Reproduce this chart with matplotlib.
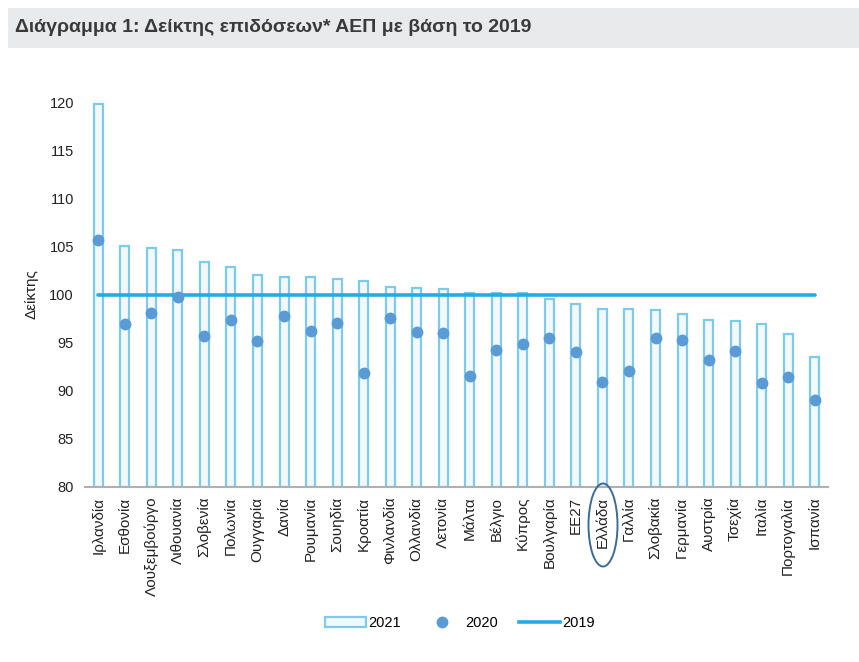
import matplotlib.pyplot as plt
from matplotlib.patches import Rectangle, Ellipse
from matplotlib.lines import Line2D
import numpy as np

plt.rcParams['font.family'] = ['Liberation Sans', 'DejaVu Sans']

countries = ['Ιρλανδία', 'Εσθονία', 'Λουξεμβούργο', 'Λιθουανία', 'Σλοβενία',
             'Πολωνία', 'Ουγγαρία', 'Δανία', 'Ρουμανία', 'Σουηδία', 'Κροατία',
             'Φινλανδία', 'Ολλανδία', 'Λετονία', 'Μάλτα', 'Βέλγιο', 'Κύπρος',
             'Βουλγαρία', 'ΕΕ27', 'Ελλάδα', 'Γαλλία', 'Σλοβακία', 'Γερμανία',
             'Αυστρία', 'Τσεχία', 'Ιταλία', 'Πορτογαλία', 'Ισπανία']
v2021 = [119.8, 105.0, 104.8, 104.6, 103.4, 102.9, 102.0, 101.8, 101.8, 101.6,
         101.4, 100.8, 100.7, 100.6, 100.2, 100.2, 100.2, 99.5, 99.0, 98.5,
         98.5, 98.4, 98.0, 97.3, 97.2, 96.9, 95.9, 93.5]
v2020 = [105.7, 96.9, 98.1, 99.7, 95.7, 97.3, 95.2, 97.8, 96.2, 97.0, 91.8,
         97.6, 96.1, 96.05, 91.55, 94.2, 94.9, 95.5, 94.0, 90.9, 92.05, 95.5,
         95.3, 93.15, 94.1, 90.8, 91.45, 89.05]
v2019 = 100
highlight = 'Ελλάδα'

bar_edge = '#7ccbec'
bar_face = '#f3f8fc'
dot_col = '#5b9bd5'
line_col = '#27aae1'

fig = plt.figure(figsize=(8.59, 6.62), dpi=100)

# title band
fig.patches.append(Rectangle((8 / 859, 1 - 48 / 662), 851 / 859, 40 / 662,
                             transform=fig.transFigure, facecolor='#e9eaec',
                             edgecolor='none', zorder=0))
fig.text(15 / 859, 1 - 28 / 662, 'Διάγραμμα 1: Δείκτης επιδόσεων* ΑΕΠ με βάση το 2019',
         fontsize=14, fontweight='bold', color='#3a3a3a', va='center', ha='left')

ax = fig.add_axes([85 / 859, 1 - 487 / 662, 743 / 859, 385 / 662])
x = np.arange(len(countries))

ax.bar(x, np.array(v2021) - 80, bottom=80, width=0.34, color=bar_face,
       edgecolor=bar_edge, linewidth=1.6, zorder=2)
ax.plot(x, v2020, 'o', color=dot_col, markersize=7.5, zorder=4)
ax.plot([x[0], x[-1]], [v2019, v2019], color=line_col, linewidth=2.6,
        solid_capstyle='round', zorder=3)

ax.set_xlim(-0.5, len(countries) - 0.5)
ax.set_ylim(80, 120)
ax.set_yticks(range(80, 121, 5))
ax.set_xticks(x)
ax.set_xticklabels(countries, rotation=90, fontsize=11, color='#222222')
ax.tick_params(axis='both', length=0, labelsize=10.5, colors='#222222')
ax.tick_params(axis='x', labelsize=11, pad=7)
ax.tick_params(axis='y', pad=8)
for s in ['left', 'right', 'top']:
    ax.spines[s].set_visible(False)
ax.spines['bottom'].set_color('#b0b0b0')
ax.spines['bottom'].set_linewidth(1.5)
ax.set_ylabel('Δείκτης', fontsize=11, color='#222222', labelpad=8)

# circle around Greece
fig.patches.append(Ellipse((603 / 859, 1 - 525 / 662), 29 / 859, 83 / 662,
                           transform=fig.transFigure, fill=False,
                           edgecolor='#3d6b99', linewidth=1.4))

handles = [Rectangle((0, 0), 1, 1, facecolor=bar_face, edgecolor=bar_edge, linewidth=1.6),
           Line2D([], [], marker='o', linestyle='none', color=dot_col, markersize=7.5),
           Line2D([], [], color=line_col, linewidth=2.6)]
fig.legend(handles, ['2021', '2020', '2019'], loc='center', ncol=3,
           bbox_to_anchor=(460 / 859, 1 - 623 / 662), frameon=False,
           fontsize=10.5, handlelength=2.8, handletextpad=0.2, columnspacing=1.4)

fig.savefig('out.png', dpi=100)
